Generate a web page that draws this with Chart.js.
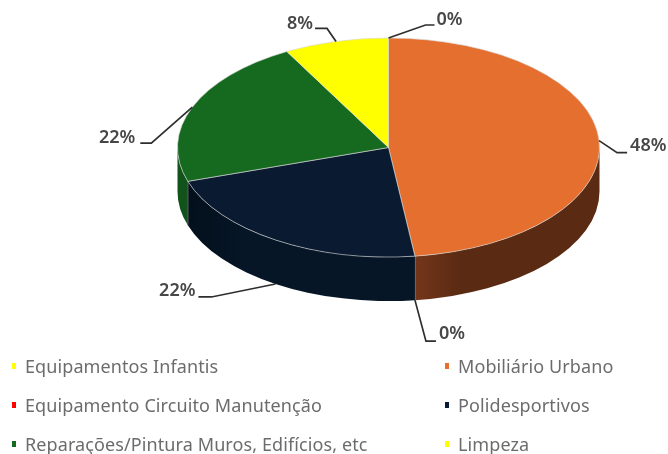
<!DOCTYPE html>
<html lang="pt">
<head>
<meta charset="utf-8">
<title>Pie</title>
<script src="https://cdn.jsdelivr.net/npm/chart.js@4"></script>
<style>
    html, body { margin: 0; padding: 0; background: #fff; }
    #wrap { position: relative; width: 668px; height: 454px; overflow: hidden; filter: blur(0.65px); }
    canvas { position: absolute; left: 0; top: 0; }
    .item { position: absolute; font: 18px "Noto Sans", sans-serif; letter-spacing: 0.1px; color: #6c6c6c; white-space: nowrap; line-height: 20px; }
    .item i { position: absolute; left: -13px; top: 7px; width: 4px; height: 6px; }
</style>
</head>
<body>
<div id="wrap">
    <canvas id="pieChart" width="668" height="454"></canvas>
</div>
<script>
// Data
const categories = ['Equipamentos Infantis', 'Mobiliário Urbano', 'Equipamento Circuito Manutenção', 'Polidesportivos', 'Reparações/Pintura Muros, Edifícios, etc', 'Limpeza'];
const values = [0, 48, 0, 22, 22, 8];
const colors = ['#ffff00', '#e46f2e', '#ff0000', '#0a1b31', '#156a1f', '#ffff00'];
const sideColors = [['#999900', '#999900'], ['#74361a', '#5a2a12'], ['#990000', '#990000'], ['#03101c', '#061626'], ['#12531b', '#12531b'], ['#999900', '#999900']];

// Leader lines: elbow and end relative to where the line leaves the pie, label nudge
const leaders = [
    { elbow: [37, -13], end: [46, -13], align: 'left', nudge: [2, -5] },
    { elbow: [18, 12], end: [28, 12], align: 'left', nudge: [3, -7] },
    { elbow: [11, 41], end: [21, 41], align: 'left', nudge: [3, -7] },
    { elbow: [-64, 13], end: [-77, 13], align: 'right', nudge: [-3, -6] },
    { elbow: [-41, 36], end: [-52, 36], align: 'right', nudge: [-5, -5] },
    { elbow: [-9, -13], end: [-21, -13], align: 'right', nudge: [-2, -5] }
];

// Pie is flattened to an ellipse and gets a wall underneath
const topY = 147.5;
const flatten = 0.519;
const depth = 44;

const pie3d = {
    id: 'pie3d',
    beforeDatasetsDraw(chart) {
        const ctx = chart.ctx;
        const arcs = chart.getDatasetMeta(0).data;
        arcs.forEach((arc, i) => {
            const s = Math.max(arc.startAngle, 0);
            const e = Math.min(arc.endAngle, Math.PI);
            if (s >= e) return;
            const rx = arc.outerRadius;
            const ry = rx * flatten;
            const x0 = arc.x + rx * Math.cos(e);
            const x1 = arc.x + rx * Math.cos(s);
            const grad = ctx.createLinearGradient(x0, 0, x1, 0);
            grad.addColorStop(0, sideColors[i][0]);
            grad.addColorStop(0.25, sideColors[i][1]);
            grad.addColorStop(1, sideColors[i][1]);
            ctx.beginPath();
            ctx.ellipse(arc.x, topY, rx, ry, 0, s, e);
            ctx.ellipse(arc.x, topY + depth, rx, ry, 0, e, s, true);
            ctx.closePath();
            ctx.fillStyle = grad;
            ctx.fill();
            // light edge where two walls meet
            if (e < Math.PI && arc.circumference > 0) {
                ctx.beginPath();
                ctx.moveTo(arc.x + rx * Math.cos(e), topY + ry * Math.sin(e));
                ctx.lineTo(arc.x + rx * Math.cos(e), topY + depth + ry * Math.sin(e));
                ctx.strokeStyle = '#8d8d8d';
                ctx.lineWidth = 1;
                ctx.stroke();
            }
        });
        ctx.save();
        ctx.translate(arcs[0].x, topY);
        ctx.scale(1, flatten);
        ctx.translate(-arcs[0].x, -arcs[0].y);
    },
    afterDatasetsDraw(chart) {
        const ctx = chart.ctx;
        ctx.restore();
        const total = values.reduce((a, b) => a + b, 0);
        chart.getDatasetMeta(0).data.forEach((arc, i) => {
            const mid = (arc.startAngle + arc.endAngle) / 2;
            const rx = arc.outerRadius;
            const sx = arc.x + rx * Math.cos(mid);
            let sy = topY + rx * flatten * Math.sin(mid);
            if (Math.sin(mid) > 0.3) sy += depth;
            const l = leaders[i];
            ctx.beginPath();
            ctx.moveTo(sx, sy);
            ctx.lineTo(sx + l.elbow[0], sy + l.elbow[1]);
            ctx.lineTo(sx + l.end[0], sy + l.end[1]);
            ctx.strokeStyle = '#2e2e2e';
            ctx.lineWidth = 1.7;
            ctx.stroke();
            ctx.font = '600 18px "Noto Sans", sans-serif';
            ctx.fillStyle = '#474747';
            ctx.textAlign = l.align;
            ctx.textBaseline = 'middle';
            ctx.fillText(Math.round(values[i] / total * 100) + '%', sx + l.end[0] + l.nudge[0], sy + l.end[1] + l.nudge[1]);
        });
    }
};

new Chart(document.getElementById('pieChart').getContext('2d'), {
    type: 'pie',
    data: {
        labels: categories,
        datasets: [{
            data: values,
            backgroundColor: colors,
            borderColor: 'rgba(215,215,215,0.8)',
            borderWidth: 1,
            clip: false
        }]
    },
    options: {
        responsive: false,
        animation: false,
        layout: { padding: { left: 177, right: 68 } },
        plugins: { legend: { display: false }, tooltip: { enabled: false } }
    },
    plugins: [pie3d]
});

// Legend in two columns, filled top to bottom
const legendX = [25, 458];
const legendY = [356, 395, 434];
const wrap = document.getElementById('wrap');
const order = [0, 2, 4, 1, 3, 5];
order.forEach((idx, n) => {
    const el = document.createElement('div');
    el.className = 'item';
    el.style.left = legendX[Math.floor(n / 3)] + 'px';
    el.style.top = legendY[n % 3] + 'px';
    el.textContent = categories[idx];
    const mark = document.createElement('i');
    mark.style.background = colors[idx];
    el.appendChild(mark);
    wrap.appendChild(el);
});
</script>
</body>
</html>
